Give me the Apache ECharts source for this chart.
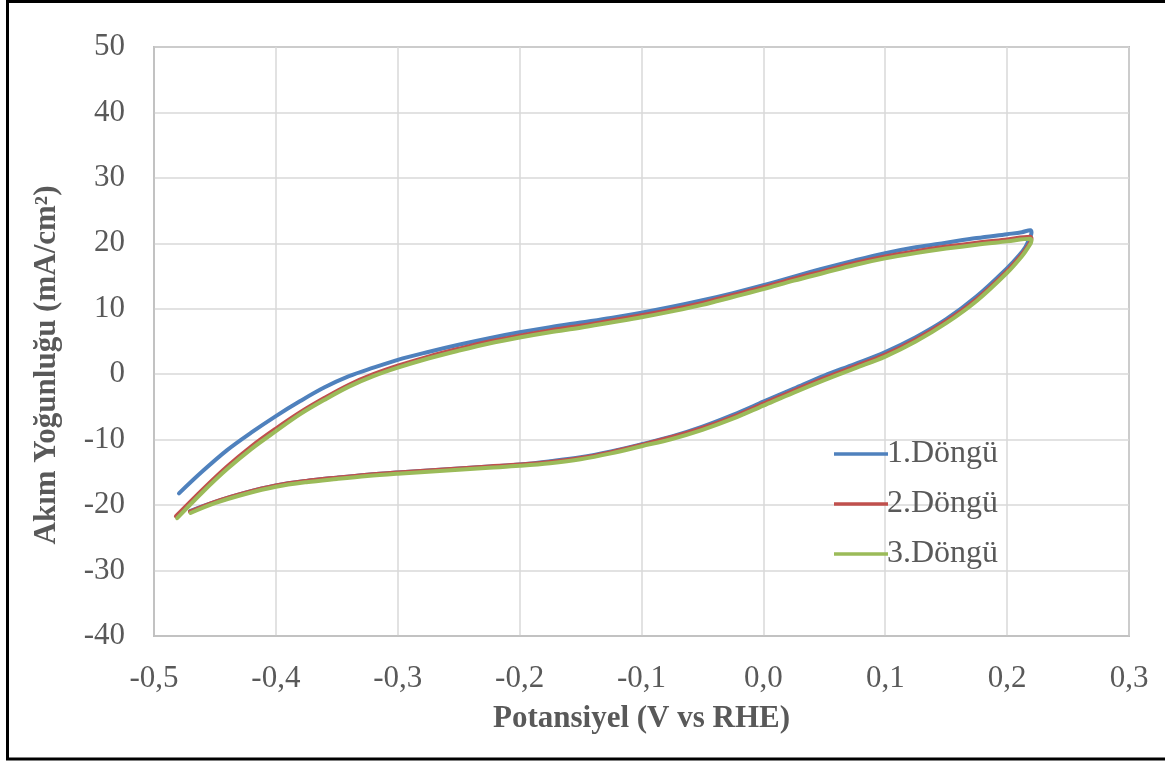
<!DOCTYPE html>
<html>
<head>
<meta charset="utf-8">
<script src="https://cdn.jsdelivr.net/npm/echarts@6/dist/echarts.min.js"></script>
<style>
  html, body { margin: 0; padding: 0; background: #ffffff; }
  #chart { width: 1165px; height: 762px; }
</style>
</head>
<body>
<div id="chart"></div>
<script>
// Cyclic voltammetry: potential (V vs RHE) and current density (mA/cm²), three cycles.
// Each cycle is traced forward along the anodic (upper) branch and back along the cathodic (lower) branch.
const cycle1Potential = [
  -0.4795, -0.460, -0.440, -0.420, -0.400, -0.380, -0.360, -0.340, -0.320, -0.300,
  -0.275, -0.250, -0.225, -0.200, -0.175, -0.150, -0.125, -0.100, -0.075, -0.050,
  -0.025, 0.000, 0.025, 0.050, 0.075, 0.100, 0.125, 0.150, 0.175, 0.200,
  0.212, 0.219, 0.220,
  0.218, 0.215, 0.210, 0.200, 0.175, 0.150, 0.125, 0.100, 0.075, 0.050,
  0.025, 0.000, -0.025, -0.050, -0.075, -0.100, -0.125, -0.150, -0.175, -0.200,
  -0.225, -0.250, -0.275, -0.300, -0.325, -0.350, -0.375, -0.400, -0.425, -0.450, -0.4705
];
const cycle1Current = [
  -18.2, -14.8, -11.6, -8.9, -6.4, -4.1, -2.0, -0.3, 1.0, 2.2,
  3.4, 4.5, 5.5, 6.4, 7.2, 7.9, 8.6, 9.4, 10.3, 11.3,
  12.4, 13.6, 14.9, 16.2, 17.4, 18.5, 19.4, 20.1, 20.8, 21.4,
  21.7, 22.0, 21.6,
  20.6, 19.45, 18.2, 16.2, 11.9, 8.4, 5.65, 3.4, 1.55, -0.2,
  -2.2, -4.2, -6.2, -8.0, -9.5, -10.7, -11.8, -12.7, -13.3, -13.8,
  -14.1, -14.4, -14.7, -15.0, -15.35, -15.8, -16.3, -17.0, -18.1, -19.5, -20.9
];

const cycle2Potential = [
  -0.482, -0.460, -0.440, -0.420, -0.400, -0.380, -0.360, -0.340, -0.320, -0.300,
  -0.275, -0.250, -0.225, -0.200, -0.175, -0.150, -0.125, -0.100, -0.075, -0.050,
  -0.025, 0.000, 0.025, 0.050, 0.075, 0.100, 0.125, 0.150, 0.175, 0.200,
  0.219,
  0.220, 0.217, 0.212, 0.200, 0.175, 0.150, 0.125, 0.100, 0.075, 0.050,
  0.025, 0.000, -0.025, -0.050, -0.075, -0.100, -0.125, -0.150, -0.175, -0.200,
  -0.225, -0.250, -0.275, -0.300, -0.325, -0.350, -0.375, -0.400, -0.425, -0.450, -0.4705
];
const cycle2Current = [
  -21.7, -17.6, -14.1, -11.0, -8.3, -5.8, -3.6, -1.6, 0.0, 1.3,
  2.7, 3.9, 5.0, 5.9, 6.7, 7.4, 8.2, 9.0, 9.9, 10.9,
  12.1, 13.3, 14.6, 15.8, 17.0, 18.0, 18.8, 19.5, 20.1, 20.6,
  21.0,
  20.7, 19.6, 18.3, 15.8, 11.5, 8.1, 5.3, 3.0, 1.2, -0.6,
  -2.5, -4.5, -6.5, -8.2, -9.6, -10.8, -11.9, -12.8, -13.4, -13.8,
  -14.1, -14.4, -14.7, -15.0, -15.35, -15.8, -16.3, -17.0, -18.1, -19.5, -21.0
];

const cycle3Potential = [
  -0.481, -0.460, -0.440, -0.420, -0.400, -0.380, -0.360, -0.340, -0.320, -0.300,
  -0.275, -0.250, -0.225, -0.200, -0.175, -0.150, -0.125, -0.100, -0.075, -0.050,
  -0.025, 0.000, 0.025, 0.050, 0.075, 0.100, 0.125, 0.150, 0.175, 0.200,
  0.219,
  0.220, 0.217, 0.212, 0.200, 0.175, 0.150, 0.125, 0.100, 0.075, 0.050,
  0.025, 0.000, -0.025, -0.050, -0.075, -0.100, -0.125, -0.150, -0.175, -0.200,
  -0.225, -0.250, -0.275, -0.300, -0.325, -0.350, -0.375, -0.400, -0.425, -0.450, -0.470
];
const cycle3Current = [
  -22.0, -18.0, -14.5, -11.4, -8.7, -6.1, -3.9, -1.9, -0.3, 1.0,
  2.4, 3.6, 4.7, 5.6, 6.4, 7.1, 7.9, 8.7, 9.6, 10.6,
  11.8, 13.0, 14.3, 15.5, 16.7, 17.7, 18.5, 19.2, 19.8, 20.3,
  20.7,
  20.4, 19.3, 18.0, 15.5, 11.2, 7.8, 5.0, 2.7, 0.9, -0.9,
  -2.8, -4.8, -6.8, -8.5, -9.9, -11.0, -12.1, -13.0, -13.6, -14.0,
  -14.3, -14.6, -14.9, -15.2, -15.55, -16.0, -16.5, -17.2, -18.3, -19.7, -21.2
];

const seriesNames = ['1.Döngü', '2.Döngü', '3.Döngü'];
const seriesColors = ['#4F81BD', '#C0504D', '#9BBB59'];
const xAxisTitle = 'Potansiyel (V vs RHE)';
const yAxisTitle = 'Akım Yoğunluğu (mA/cm²)';

function pairs(xs, ys) {
  return xs.map(function (x, i) { return [x, ys[i]]; });
}

const cycles = [
  pairs(cycle1Potential, cycle1Current),
  pairs(cycle2Potential, cycle2Current),
  pairs(cycle3Potential, cycle3Current)
];

const serif = '"Liberation Serif", "Times New Roman", serif';
const textGrey = '#595959';

const chart = echarts.init(document.getElementById('chart'), null, { renderer: 'canvas' });

chart.setOption({
  backgroundColor: '#ffffff',
  animation: false,
  grid: {
    left: 154, right: 36, top: 47, bottom: 126,
    show: true, borderColor: '#8c8c8c', borderWidth: 1.5
  },
  legend: {
    orient: 'vertical',
    left: 829, top: 433,
    itemWidth: 54, itemHeight: 3.5, itemGap: 18,
    icon: 'rect',
    data: seriesNames,
    textStyle: { fontFamily: serif, fontSize: 32, color: textGrey, padding: [0, 0, 0, -6], lineHeight: 32 }
  },
  xAxis: {
    type: 'value',
    min: -0.5, max: 0.3, interval: 0.1,
    axisLine: { show: true, onZero: false, lineStyle: { color: '#bfbfbf', width: 1.5 } },
    axisTick: { show: false },
    splitLine: { show: true, lineStyle: { color: '#d9d9d9', width: 1.5 } },
    axisLabel: {
      margin: 27,
      fontFamily: serif, fontSize: 31, color: textGrey,
      formatter: function (v) { return v.toFixed(1).replace('.', ','); }
    },
    name: xAxisTitle,
    nameLocation: 'middle',
    nameGap: 67,
    nameTextStyle: { fontFamily: serif, fontSize: 31, fontWeight: 'bold', color: textGrey }
  },
  yAxis: {
    type: 'value',
    min: -40, max: 50, interval: 10,
    axisLine: { show: true, onZero: false, lineStyle: { color: '#bfbfbf', width: 1.5 } },
    axisTick: { show: false },
    splitLine: { show: true, lineStyle: { color: '#d9d9d9', width: 1.5 } },
    axisLabel: {
      margin: 29,
      fontFamily: serif, fontSize: 31, color: textGrey
    }
  },
  graphic: [
    {
      type: 'text',
      x: 47, y: 365,
      rotation: Math.PI / 2,
      style: {
        text: yAxisTitle,
        fontFamily: serif, fontSize: 31, fontWeight: 'bold',
        fill: textGrey,
        align: 'center', verticalAlign: 'middle'
      }
    },
    {
      type: 'rect',
      shape: { x: 7.5, y: 1.5, width: 1200, height: 757.5 },
      style: { fill: 'none', stroke: '#000000', lineWidth: 3 },
      silent: true
    }
  ],
  series: cycles.map(function (data, i) {
    return {
      name: seriesNames[i],
      type: 'line',
      data: data,
      smooth: 0.35,
      symbol: 'none',
      color: seriesColors[i],
      lineStyle: { width: 4, color: seriesColors[i], cap: 'round', join: 'round' },
      z: 2 + i
    };
  })
});
</script>
</body>
</html>
